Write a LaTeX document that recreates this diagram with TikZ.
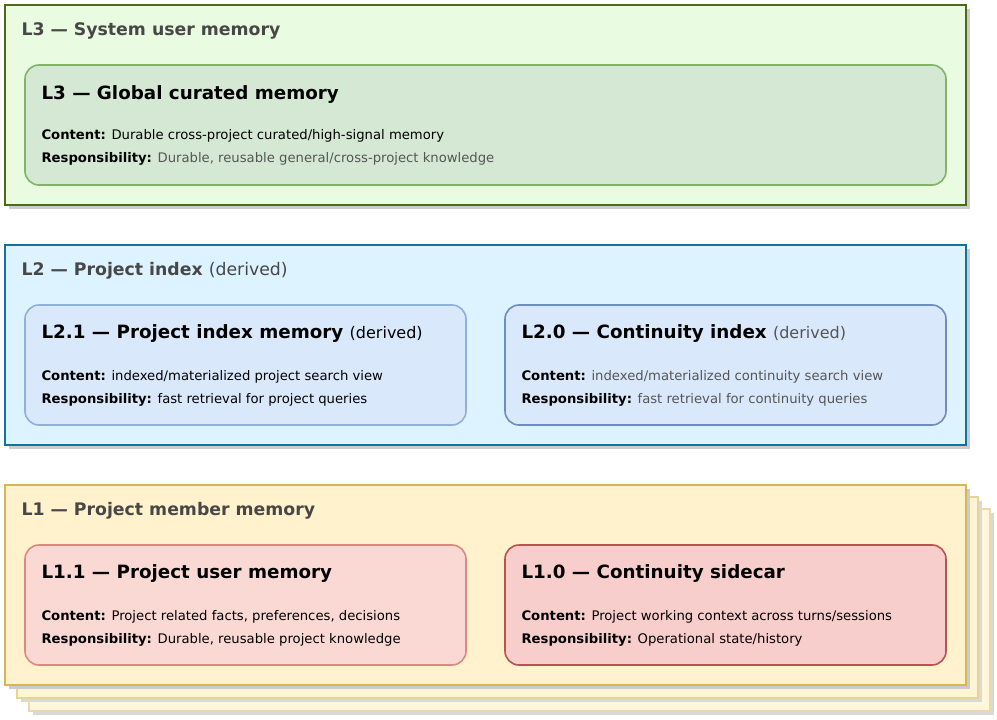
\documentclass[tikz,border=0pt]{standalone}
\usepackage{fontspec}
\setmainfont{DejaVu Sans}
\begin{document}
\begin{tikzpicture}[x=1pt,y=-1pt,
 outer/.style={line width=2.2pt},
 inner/.style={line width=1.6pt,rounded corners=14pt},
 otitle/.style={anchor=west,font=\fontsize{17.3}{20}\selectfont\bfseries,text=black!72},
 ititle/.style={anchor=west,font=\fontsize{18.3}{22}\selectfont\bfseries},
 body/.style={anchor=west,font=\fontsize{13.2}{16}\selectfont}]
\definecolor{gbg}{HTML}{E9FBE0}\definecolor{gbd}{HTML}{4B6B14}
\definecolor{gif}{HTML}{D5E8D4}\definecolor{gid}{HTML}{82B366}
\definecolor{bbg}{HTML}{DDF3FF}\definecolor{bbd}{HTML}{10739E}
\definecolor{bif}{HTML}{DAE8FC}\definecolor{bid1}{HTML}{8EB0DA}\definecolor{bid2}{HTML}{6C8EBF}
\definecolor{ybg}{HTML}{FFF2CC}\definecolor{ybd}{HTML}{D6B656}
\definecolor{rif1}{HTML}{FAD9D5}\definecolor{rid1}{HTML}{D98A82}
\definecolor{rif2}{HTML}{F8CECC}\definecolor{rid2}{HTML}{B85450}
\definecolor{gt}{HTML}{555555}
\useasboundingbox (0,0) rectangle (997,720);
% L3
\fill[black!20] (9,9) rectangle (970,209);
\draw[outer,draw=gbd,fill=gbg] (5,5) rectangle (966,205);
\node[otitle] (t3) at (18,31) {L3 — System user memory};
\draw[inner,draw=gid,fill=gif] (25,65) rectangle (946,185);
\node[ititle] (t31) at (38,95) {L3 — Global curated memory};
\node[body] (c31) at (38,136) {\textbf{Content:} Durable cross-project curated/high-signal memory};
\node[body] (r31) at (38,159) {\textbf{Responsibility:} \textcolor{gt}{Durable, reusable general/cross-project knowledge}};
% L2
\fill[black!20] (9,249) rectangle (970,449);
\draw[outer,draw=bbd,fill=bbg] (5,245) rectangle (966,445);
\node[otitle] (t2) at (18,271) {L2 — Project index \mdseries(derived)};
\draw[inner,draw=bid1,fill=bif] (25,305) rectangle (466,425);
\node[ititle] (t21) at (38,334) {L2.1 — Project index memory \mdseries\fontsize{16}{20}\selectfont(derived)};
\node[body] (c21) at (38,377) {\textbf{Content:} indexed/materialized project search view};
\node[body] (r21) at (38,400) {\textbf{Responsibility:} fast retrieval for project queries};
\draw[inner,draw=bid2,fill=bif] (505,305) rectangle (946,425);
\node[ititle] (t20) at (518,334) {L2.0 — Continuity index \mdseries\fontsize{16}{20}\selectfont\textcolor{gt}{(derived)}};
\node[body] (c20) at (518,377) {\textbf{Content:} \textcolor{gt}{indexed/materialized continuity search view}};
\node[body] (r20) at (518,400) {\textbf{Responsibility:} \textcolor{gt}{fast retrieval for continuity queries}};
% L1 stack
\fill[black!15] (33,513) rectangle (994,715);
\draw[line width=1.2pt,draw=ybd!50,fill=ybg!70] (29,509) rectangle (990,711);
\fill[black!15] (21,501) rectangle (982,702);
\draw[line width=1.2pt,draw=ybd!60,fill=ybg!85] (17,497) rectangle (978,698);
\fill[black!20] (9,489) rectangle (970,689);
\draw[outer,draw=ybd,fill=ybg] (5,485) rectangle (966,685);
\node[otitle] (t1) at (18,511) {L1 — Project member memory};
\draw[inner,draw=rid1,fill=rif1] (25,545) rectangle (466,665);
\node[ititle] (t11) at (38,574) {L1.1 — Project user memory};
\node[body] (c11) at (38,617) {\textbf{Content:} Project related facts, preferences, decisions};
\node[body] (r11) at (38,640) {\textbf{Responsibility:} Durable, reusable project knowledge};
\draw[inner,draw=rid2,fill=rif2] (505,545) rectangle (946,665);
\node[ititle] (t10) at (518,574) {L1.0 — Continuity sidecar};
\node[body] (c10) at (518,617) {\textbf{Content:} Project working context across turns/sessions};
\node[body] (r10) at (518,640) {\textbf{Responsibility:} Operational state/history};
\end{tikzpicture}
\end{document}
